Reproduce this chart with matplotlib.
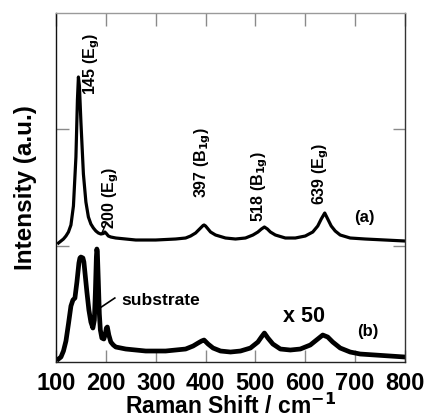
import matplotlib
matplotlib.use("Agg")
import matplotlib.pyplot as plt

plt.rcParams['font.family'] = ['Liberation Sans', 'DejaVu Sans']
plt.rcParams['font.weight'] = 'bold'
plt.rcParams['mathtext.default'] = 'bf'

# Spectrum (a): anatase film (offset included)
shift_a = [105, 110, 115, 120, 125, 130, 135, 140, 143, 145, 147, 150, 155, 160, 165, 170,
           175, 180, 185, 190, 195, 198, 201, 205, 210, 220, 240, 260, 300, 340, 360, 370,
           380, 390, 395, 397, 400, 405, 410, 420, 440, 460, 480, 495, 505, 512, 518, 524,
           530, 540, 560, 580, 600, 615, 625, 632, 639, 645, 652, 660, 670, 690, 720, 760, 800]
int_a = [119, 121, 123, 126, 130, 137, 156, 205, 262, 285, 276, 240, 188, 160, 145, 138,
         134, 131, 129, 128, 128.5, 130, 128.5, 126, 125, 124, 123, 122, 122, 123, 124, 126,
         129, 134, 136.5, 137, 136, 133, 130, 127, 124, 123, 124, 127, 130, 133, 135, 133,
         130, 127, 124, 124, 126, 130, 136, 143, 149, 143, 136, 131, 127, 124, 123, 122, 121]

# Spectrum (b): x 50
shift_b = [105, 110, 115, 120, 125, 130, 134, 138, 142, 146, 148, 150, 154, 156, 158, 162,
           166, 170, 174, 177, 179, 181, 182, 183, 185, 187, 189, 192, 196, 199, 201, 203,
           206, 210, 215, 220, 240, 260, 280, 300, 320, 340, 360, 375, 385, 392, 397, 405,
           415, 430, 450, 470, 490, 505, 512, 518, 525, 535, 550, 570, 590, 610, 625, 635,
           645, 655, 670, 690, 710, 740, 770, 800]
int_b = [3, 5, 11, 21, 38, 56, 62, 64, 80, 99, 104, 105, 104, 100, 90, 70,
         52, 40, 34, 42, 70, 105, 113, 110, 80, 48, 32, 24, 23, 28, 34, 35,
         27, 20, 17, 15, 13, 12, 11, 11, 11, 12, 13, 16, 19, 21, 22, 18,
         14, 11, 10, 11, 14, 20, 25, 29, 24, 18, 13, 12, 13, 17, 23, 27,
         25, 20, 14, 10, 8, 7, 6, 5]

x_ticks = [100, 200, 300, 400, 500, 600, 700, 800]

fig = plt.figure(figsize=(4.27, 4.19), dpi=100)
ax = fig.add_axes([0.1311, 0.136, 0.8174, 0.833])

ax.plot(shift_a, int_a, color='black', lw=2.3, solid_joinstyle='round')
ax.plot(shift_b, int_b, color='black', lw=3.4, solid_joinstyle='round')

ax.set_xlim(100, 800)
ax.set_ylim(0, 349)
ax.set_xticks(x_ticks)
ax.set_yticks([116.3, 232.6])
ax.set_yticklabels([])
ax.tick_params(axis='both', direction='in', length=9, width=1.0, color='#8a8a8a',
               top=True, right=True, labelsize=17, pad=7)
for lab in ax.get_xticklabels():
    lab.set_fontweight('bold')

ax.spines['left'].set_color('#111111')
ax.spines['bottom'].set_color('#222222')
ax.spines['right'].set_color('#333333')
ax.spines['top'].set_color('#9a9a9a')
for s in ax.spines.values():
    s.set_linewidth(1.0)

ax.set_xlabel('Raman Shift / cm$^{\\mathbf{-1}}$', fontsize=16.5, fontweight='bold', labelpad=-1)
ax.set_ylabel('Intensity (a.u.)', fontsize=17.5, fontweight='bold', labelpad=7)

ann = dict(rotation=90, fontsize=11.5, fontweight='bold', ha='center', va='bottom')
ax.text(172, 267, '145 (E$_g$)', **ann)
ax.text(209, 133, '200 (E$_g$)', **ann)
ax.plot([192, 200], [129, 138], color='black', lw=1.0)
ax.text(394, 164, '397 (B$_{1g}$)', **ann)
ax.text(509, 140, '518 (B$_{1g}$)', **ann)
ax.text(630, 157, '639 (E$_g$)', **ann)
ax.text(718, 145, '(a)', fontsize=12, fontweight='bold', ha='center', va='center')
ax.text(726, 31, '(b)', fontsize=12, fontweight='bold', ha='center', va='center')
ax.text(597, 46, 'x 50', fontsize=15.5, fontweight='bold', ha='center', va='center')
ax.text(310, 62, 'substrate', fontsize=12.5, fontweight='bold', ha='center', va='center')
ax.plot([188, 218], [54, 64], color='black', lw=1.2)

fig.savefig('out.png', dpi=100)
